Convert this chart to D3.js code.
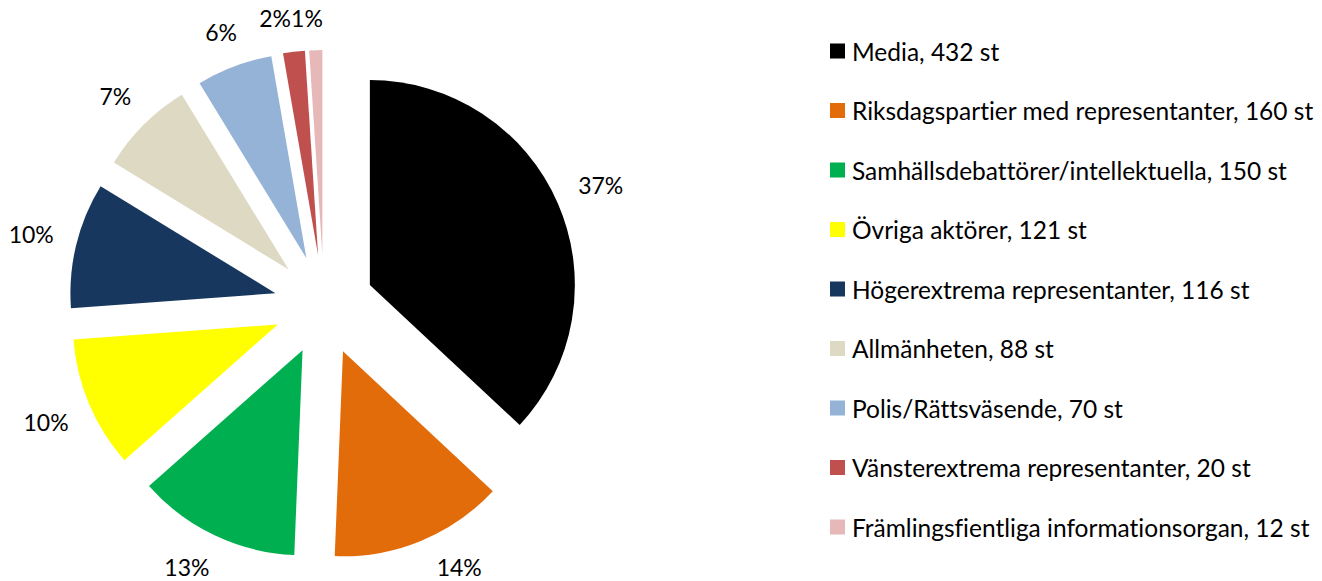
<!DOCTYPE html>
<html>
<head>
<meta charset="utf-8">
<script src="https://cdn.jsdelivr.net/npm/d3@7"></script>
<style>
  body { margin: 0; background: #fff; }
  svg text { font-family: Lato, "Open Sans", sans-serif; fill: #000; font-variant-ligatures: none; }
</style>
</head>
<body>
<div class="chart"></div>
<script>
const categories = [
  "Media",
  "Riksdagspartier med representanter",
  "Samhällsdebattörer/intellektuella",
  "Övriga aktörer",
  "Högerextrema representanter",
  "Allmänheten",
  "Polis/Rättsväsende",
  "Vänsterextrema representanter",
  "Främlingsfientliga informationsorgan"
];
const counts = [432, 160, 150, 121, 116, 88, 70, 20, 12];
// percentage labels as printed on the chart
const pctLabels = ["37%", "14%", "13%", "10%", "10%", "7%", "6%", "2%", "1%"];
const colors = ["#000000", "#E36C0A", "#00B050", "#FFFF00", "#17375E", "#DDD9C3", "#95B3D7", "#C0504D", "#E6B9B8"];

const width = 1322, height = 581;
const cx = 324, cy = 305;     // pie centre
const radius = 205;
const explode = 50;           // each slice pushed out from the centre
const labelGap = 22;

const data = categories.map((c, i) => ({ name: c, value: counts[i], color: colors[i], pct: pctLabels[i] }));

const svg = d3.select(".chart")
  .append("svg")
  .attr("width", width)
  .attr("height", height);

const pie = d3.pie().value(d => d.value).sort(null);
const arc = d3.arc().innerRadius(0).outerRadius(radius);
const arcs = pie(data);

const slices = svg.append("g")
  .attr("transform", `translate(${cx},${cy})`);

// bisector direction for each slice
const dir = d => {
  const a = (d.startAngle + d.endAngle) / 2;
  return [Math.sin(a), -Math.cos(a)];
};

slices.selectAll("path")
  .data(arcs)
  .join("path")
  .attr("d", arc)
  .attr("fill", d => d.data.color)
  .attr("transform", d => {
    const [dx, dy] = dir(d);
    return `translate(${dx * explode},${dy * explode})`;
  });

// percentage labels, placed just outside each slice
const labels = slices.selectAll("text.pct")
  .data(arcs)
  .join("text")
  .attr("class", "pct")
  .attr("text-anchor", "middle")
  .attr("dominant-baseline", "central")
  .style("font-size", "23px")
  .text(d => d.data.pct);

const boxes = [];
labels.each(function(d) {
  const bb = this.getBBox();
  const [dx, dy] = dir(d);
  const ext = bb.width / 2 * Math.abs(dx) + 10 * Math.abs(dy);
  const r = explode + radius + labelGap + ext;
  let x = dx * r, y = dy * r;
  // keep inside the chart area, sliding along the circle
  const yMax = height - 14 - cy, yMin = 18 - cy;
  if (y > yMax || y < yMin) {
    y = Math.max(yMin, Math.min(yMax, y));
    x = Math.sign(dx) * Math.sqrt(Math.max(0, r * r - y * y));
  }
  boxes.push({ el: this, x, y, w: bb.width });
});
// nudge neighbours apart (small slices near the top)
for (let i = boxes.length - 2; i >= 0; i--) {
  const a = boxes[i], b = boxes[i + 1];
  if (a.y < 0 && Math.abs(a.y - b.y) < 20 && a.x <= b.x && a.x + a.w / 2 > b.x - b.w / 2) {
    a.x = b.x - b.w / 2 - a.w / 2;
  }
}
boxes.forEach(b => d3.select(b.el).attr("x", b.x).attr("y", b.y));

// legend
const legend = svg.append("g")
  .attr("transform", "translate(830,51)");

const rowH = 59.5;
const rows = legend.selectAll("g")
  .data(data)
  .join("g")
  .attr("transform", (d, i) => `translate(0,${i * rowH})`);

rows.append("rect")
  .attr("x", 0)
  .attr("y", -7.5)
  .attr("width", 15)
  .attr("height", 15)
  .attr("fill", d => d.color);

rows.append("text")
  .attr("x", 22)
  .attr("y", 0)
  .attr("dominant-baseline", "central")
  .style("font-size", "24.5px")
  .text(d => `${d.name}, ${d.value} st`);
</script>
</body>
</html>
